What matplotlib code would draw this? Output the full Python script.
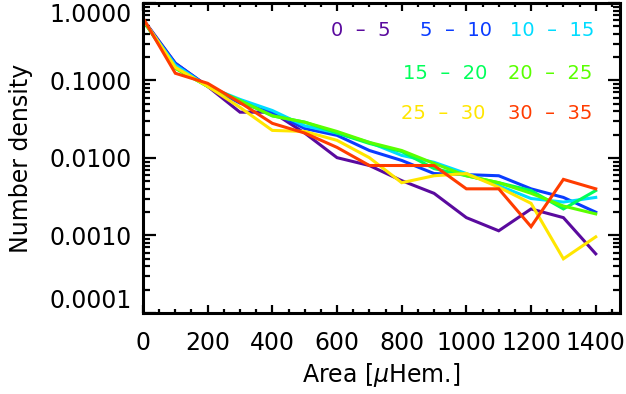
import numpy as np
import matplotlib
matplotlib.use("Agg")
import matplotlib.pyplot as plt
from matplotlib.ticker import MultipleLocator, LogLocator, FixedLocator

plt.rcParams['font.family'] = ['DejaVu Sans']
plt.rcParams['mathtext.fontset'] = 'dejavusans'

# area bins (micro hemispheres)
area = [0, 100, 200, 300, 400, 500, 600, 700, 800, 900, 1000, 1100, 1200, 1300, 1400]

# number density per latitude band
d_0_5 = [0.62, 0.167, 0.084, 0.039, 0.039, 0.021, 0.0101, 0.0080, 0.0051, 0.0035,
         0.0017, 0.00115, 0.0022, 0.0017, 0.00058]
d_5_10 = [0.60, 0.167, 0.084, 0.051, 0.039, 0.024, 0.0196, 0.0125, 0.0093, 0.0063,
          0.0061, 0.0059, 0.0040, 0.0031, 0.0020]
d_10_15 = [0.60, 0.158, 0.084, 0.057, 0.041, 0.026, 0.021, 0.0159, 0.0108, 0.0088,
           0.0063, 0.0044, 0.0030, 0.0027, 0.0031]
d_15_20 = [0.60, 0.144, 0.084, 0.055, 0.035, 0.029, 0.021, 0.0154, 0.0121, 0.0073,
           0.0059, 0.0048, 0.0038, 0.0022, 0.0038]
d_20_25 = [0.60, 0.144, 0.084, 0.055, 0.035, 0.029, 0.022, 0.0159, 0.0125, 0.0085,
           0.0059, 0.0048, 0.0035, 0.0024, 0.0019]
d_25_30 = [0.62, 0.148, 0.084, 0.045, 0.0227, 0.022, 0.0169, 0.0101, 0.0048, 0.0059,
           0.0063, 0.0042, 0.0026, 0.0005, 0.00096]
d_30_35 = [0.64, 0.124, 0.092, 0.052, 0.028, 0.021, 0.0137, 0.0080, 0.0080, 0.0080,
           0.0040, 0.0040, 0.0013, 0.0053, 0.0040]

labels = ["0  \u2013  5", "5  \u2013  10", "10  \u2013  15", "15  \u2013  20",
          "20  \u2013  25", "25  \u2013  30", "30  \u2013  35"]
series = [d_0_5, d_5_10, d_10_15, d_15_20, d_20_25, d_25_30, d_30_35]
colors = ["#5a0a9e", "#0a3cff", "#00dcff", "#00ff5a", "#5aff00", "#ffe600", "#ff3c00"]
# label positions in axes fraction (left edge, centre height)
label_pos = [(0.395, 0.910), (0.580, 0.910), (0.770, 0.910),
             (0.545, 0.774), (0.765, 0.774),
             (0.541, 0.645), (0.765, 0.645)]

fig = plt.figure(figsize=(6.26, 3.94), dpi=100)
ax = fig.add_axes([0.2284, 0.2056, 0.7620, 0.7868])

for y, c in zip(series, colors):
    ax.plot(area, y, color=c, lw=2.2, solid_joinstyle='miter')

for lab, c, (px, py) in zip(labels, colors, label_pos):
    ax.text(px, py, lab, color=c, fontsize=14, ha='left', va='center',
            transform=ax.transAxes)

ax.set_yscale('log')
ax.set_xlim(0, 1475)
ax.set_ylim(1e-4, 1.0)
ax.xaxis.set_major_locator(MultipleLocator(200))
ax.xaxis.set_minor_locator(MultipleLocator(50))
ax.yaxis.set_major_locator(FixedLocator([1e-4, 1e-3, 1e-2, 1e-1, 1.0]))
ax.yaxis.set_minor_locator(LogLocator(base=10, subs=np.arange(2, 10)))
ax.set_yticklabels(["0.0001", "0.0010", "0.0100", "0.1000", "1.0000"])

ax.tick_params(which='both', direction='in', top=True, right=True,
               labelsize=17, width=1.6, colors='black')
ax.tick_params(axis='x', which='major', length=6, pad=13)
ax.tick_params(axis='x', which='minor', length=3)
ax.tick_params(axis='y', which='major', length=9, pad=8)
ax.tick_params(axis='y', which='minor', length=5)

yl = ax.get_yticklabels()
yl[0].set_va('bottom')
yl[-1].set_va('top')

for s in ax.spines.values():
    s.set_linewidth(2.2)

ax.set_xlabel("Area [$\\mu$Hem.]", fontsize=17, labelpad=4)
ax.set_ylabel("Number density", fontsize=17, labelpad=12)

fig.savefig("out.png", dpi=100)
